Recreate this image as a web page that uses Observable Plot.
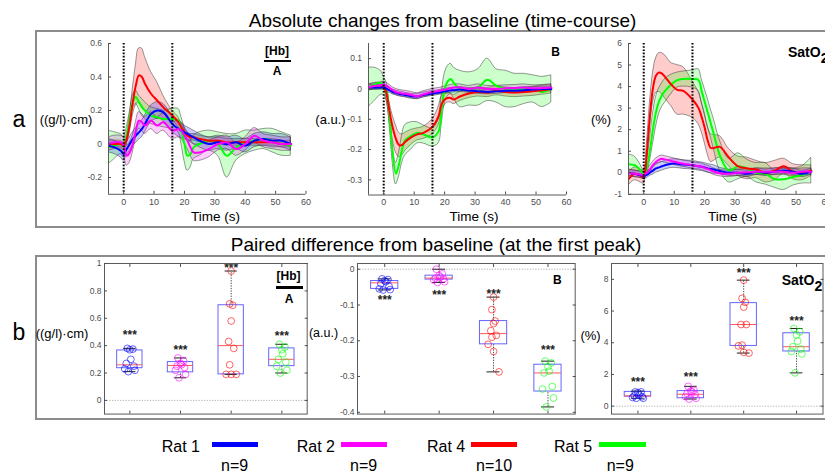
<!DOCTYPE html>
<html><head><meta charset="utf-8">
<script src="https://cdn.jsdelivr.net/npm/d3@7"></script>
<script src="https://cdn.jsdelivr.net/npm/@observablehq/plot@0.6"></script>
<style>
body{margin:0;background:#fff;font-family:"Liberation Sans",Arial,sans-serif;}
#root{position:relative;width:825px;height:475px;overflow:hidden;background:#fff;}
.t{position:absolute;white-space:nowrap;color:#000;line-height:1;}
.panel{position:absolute;border:2px solid #8c8c8c;box-sizing:border-box;}
.plot{position:absolute;}
.bar{position:absolute;}
</style></head><body><div id="root"></div>
<script>
// ---------------- DATA ----------------
const ratNames = ["Rat 1","Rat 2","Rat 4","Rat 5"];
const ratCounts = ["n=9","n=9","n=10","n=9"];
const ratColors = ["#0000ff","#ff00ff","#ff0000","#00ff00"];
const time = [-5,-3,-1,0,1,2,3,4,5,6,7,9,11,13,16,18,19,20,21,22,23,25,28,31,34,37,40,43,46,49,52,55];
const stimulusLines = [0, 16];
const timeTicks = [0,10,20,30,40,50,60];

// a) [Hb] time course: mean and half-width of the shaded band
const hbMeanRat1 = [-0.01,-0.02,-0.04,-0.06,-0.03,0.0,0.03,0.05,0.07,0.09,0.12,0.18,0.2,0.19,0.12,0.09,0.08,0.07,0.06,0.05,0.04,0.02,0.0,0.01,0.0,0.01,-0.01,0.02,0.03,0.02,0.02,0.0];
const hbErrRat1  = [0.04,0.04,0.04,0.04,0.04,0.04,0.04,0.045,0.045,0.05,0.05,0.05,0.05,0.05,0.05,0.045,0.045,0.04,0.04,0.04,0.04,0.04,0.04,0.04,0.04,0.04,0.04,0.04,0.04,0.04,0.04,0.04];
const hbMeanRat2 = [0.0,0.01,0.01,-0.01,-0.07,-0.05,0.0,0.08,0.14,0.13,0.11,0.14,0.11,0.13,0.08,0.09,0.08,0.05,0.02,-0.02,-0.05,-0.05,-0.03,0.0,0.01,-0.03,0.0,0.05,0.02,0.01,0.0,0.0];
const hbErrRat2  = [0.04,0.04,0.04,0.05,0.06,0.06,0.05,0.05,0.05,0.05,0.05,0.05,0.05,0.05,0.05,0.05,0.05,0.05,0.05,0.05,0.05,0.05,0.05,0.04,0.04,0.04,0.04,0.045,0.04,0.04,0.04,0.04];
const hbMeanRat4 = [0.0,0.0,0.0,-0.01,0.03,0.12,0.25,0.35,0.41,0.4,0.36,0.3,0.26,0.22,0.17,0.13,0.1,0.07,0.05,0.04,0.04,0.03,0.02,0.02,0.01,0.01,0.01,0.01,0.01,0.01,0.0,0.0];
const hbErrRat4  = [0.02,0.02,0.02,0.02,0.03,0.05,0.08,0.12,0.16,0.17,0.16,0.13,0.11,0.07,0.03,0.03,0.02,0.02,0.02,0.02,0.02,0.02,0.02,0.02,0.02,0.02,0.02,0.02,0.02,0.02,0.02,0.02];
const hbMeanRat5 = [-0.02,-0.01,0.0,-0.02,0.05,0.15,0.25,0.28,0.25,0.22,0.2,0.17,0.16,0.15,0.15,0.14,0.08,0.0,-0.07,-0.06,-0.02,0.0,0.02,0.0,-0.07,-0.02,0.01,0.02,0.03,0.02,0.0,-0.01];
const hbErrRat5  = [0.1,0.08,0.06,0.06,0.05,0.04,0.04,0.04,0.04,0.05,0.05,0.05,0.05,0.05,0.06,0.07,0.08,0.1,0.09,0.08,0.07,0.07,0.06,0.07,0.13,0.08,0.07,0.06,0.06,0.07,0.07,0.06];

// a) B time course
const bMeanRat1 = [0.005,0.005,0.005,0.005,0.0,-0.005,-0.01,-0.013,-0.016,-0.018,-0.02,-0.024,-0.025,-0.02,-0.015,-0.012,-0.01,-0.008,-0.006,-0.005,-0.004,-0.002,-0.005,-0.008,-0.01,-0.008,-0.006,-0.006,-0.004,-0.002,0.0,0.0];
const bErrRat1  = [0.008,0.008,0.008,0.008,0.008,0.008,0.008,0.008,0.008,0.008,0.008,0.008,0.008,0.008,0.008,0.008,0.008,0.008,0.008,0.008,0.008,0.008,0.008,0.008,0.008,0.008,0.008,0.008,0.008,0.008,0.008,0.008];
const bMeanRat2 = [0.005,0.01,0.012,0.015,0.01,0.003,-0.005,-0.01,-0.013,-0.015,-0.016,-0.02,-0.024,-0.018,-0.01,-0.007,-0.005,-0.002,0.0,0.003,0.005,0.005,0.0,0.005,0.0,0.0,0.002,0.003,0.005,0.002,0.003,0.005];
const bErrRat2  = [0.01,0.01,0.01,0.01,0.01,0.01,0.01,0.01,0.01,0.01,0.01,0.01,0.01,0.01,0.01,0.01,0.01,0.01,0.01,0.01,0.01,0.01,0.01,0.01,0.01,0.01,0.01,0.01,0.01,0.01,0.01,0.01];
const bMeanRat4 = [0.005,0.008,0.01,0.01,-0.02,-0.08,-0.13,-0.165,-0.185,-0.185,-0.175,-0.16,-0.15,-0.145,-0.125,-0.09,-0.05,-0.035,-0.03,-0.03,-0.035,-0.025,-0.015,-0.01,-0.012,-0.006,-0.01,-0.012,-0.01,-0.008,-0.004,0.0];
const bErrRat4  = [0.01,0.01,0.01,0.01,0.02,0.03,0.04,0.045,0.04,0.035,0.03,0.025,0.02,0.02,0.025,0.03,0.025,0.02,0.015,0.015,0.015,0.015,0.015,0.015,0.015,0.015,0.015,0.015,0.015,0.015,0.015,0.015];
const bMeanRat5 = [0.005,0.015,0.02,0.01,-0.01,-0.1,-0.22,-0.28,-0.25,-0.2,-0.17,-0.155,-0.145,-0.15,-0.16,-0.14,-0.07,0.0,0.025,0.033,0.02,0.0,0.0,0.005,0.03,0.01,0.0,-0.005,0.0,0.0,-0.01,0.0];
const bErrRat5  = [0.065,0.055,0.04,0.03,0.03,0.03,0.03,0.035,0.04,0.045,0.05,0.045,0.035,0.03,0.03,0.04,0.05,0.05,0.05,0.05,0.05,0.06,0.055,0.06,0.07,0.055,0.06,0.055,0.05,0.045,0.05,0.045];

// a) SatO2 time course
const satMeanRat1 = [0.0,-0.05,-0.1,-0.15,-0.1,0.0,0.1,0.2,0.25,0.3,0.35,0.42,0.42,0.38,0.35,0.3,0.28,0.25,0.2,0.18,0.15,0.08,0.0,0.0,-0.05,0.05,0.0,0.05,0.1,0.05,-0.05,0.05];
const satErrRat1  = [0.15,0.15,0.15,0.15,0.15,0.15,0.18,0.2,0.2,0.2,0.2,0.2,0.2,0.2,0.2,0.2,0.2,0.2,0.2,0.2,0.2,0.15,0.15,0.15,0.15,0.15,0.15,0.15,0.15,0.15,0.15,0.15];
const satMeanRat2 = [0.0,-0.05,-0.08,-0.1,0.0,0.15,0.35,0.5,0.6,0.65,0.62,0.55,0.48,0.42,0.35,0.3,0.28,0.22,0.18,0.12,0.05,-0.02,-0.05,0.0,0.02,0.05,0.05,0.05,0.05,0.0,0.05,0.05];
const satErrRat2  = [0.15,0.15,0.15,0.15,0.15,0.15,0.15,0.15,0.15,0.15,0.15,0.15,0.15,0.15,0.15,0.15,0.15,0.15,0.15,0.15,0.15,0.15,0.15,0.15,0.15,0.15,0.15,0.15,0.15,0.15,0.15,0.15];
const satMeanRat4 = [-0.3,-0.05,-0.15,-0.2,0.9,2.6,3.9,4.5,4.65,4.6,4.45,4.1,3.85,3.8,3.4,3.0,2.6,2.1,1.5,1.15,1.15,1.2,0.7,0.3,0.2,0.15,0.0,0.1,0.3,0.05,0.0,0.1];
const satErrRat4  = [0.3,0.3,0.3,0.3,0.4,0.6,0.7,0.8,0.9,0.95,1.0,1.0,1.15,1.1,0.85,0.75,0.7,0.7,0.65,0.65,0.6,0.5,0.4,0.45,0.5,0.4,0.45,0.45,0.35,0.35,0.35,0.25];
const satMeanRat5 = [0.4,0.35,0.1,-0.1,0.2,1.0,2.0,2.8,3.3,3.6,3.8,4.1,4.3,4.35,4.35,4.3,3.8,3.3,2.8,2.3,1.8,0.8,0.1,0.3,0.2,0.0,-0.05,-0.3,-0.3,-0.2,-0.1,0.1];
const satErrRat5  = [0.45,0.4,0.25,0.2,0.3,0.5,0.7,0.7,0.6,0.55,0.55,0.45,0.35,0.35,0.4,0.5,0.55,0.6,0.65,0.65,0.7,0.7,0.55,0.6,0.4,0.45,0.5,0.4,0.5,0.4,0.4,0.6];

const hbTicks = [-0.2,0,0.2,0.4,0.6];
const bTicks = [-0.3,-0.2,-0.1,0,0.1];
const satTicks = [-1,0,1,2,3,4,5,6];

// b) paired differences at first peak (box statistics per rat, then individual values)
const hbBoxQ1 = [0.235,0.205,0.19,0.25];
const hbBoxMed = [0.26,0.255,0.40,0.30];
const hbBoxQ3 = [0.365,0.28,0.695,0.38];
const hbWhiskLo = [0.21,0.165,0.19,0.20];
const hbWhiskHi = [0.38,0.31,0.945,0.41];
const hbStarY = [0.495,0.39,0.99,0.49];
const hbPtsRat1 = [0.38,0.375,0.37,0.30,0.27,0.25,0.23,0.22,0.21];
const hbPtsRat2 = [0.31,0.29,0.27,0.26,0.25,0.24,0.22,0.19,0.165];
const hbPtsRat4 = [0.945,0.705,0.695,0.58,0.43,0.38,0.26,0.19,0.19,0.19];
const hbPtsRat5 = [0.41,0.39,0.37,0.34,0.30,0.28,0.25,0.22,0.20];

const bBoxQ1 = [-0.055,-0.029,-0.21,-0.342];
const bBoxMed = [-0.038,-0.025,-0.18,-0.29];
const bBoxQ3 = [-0.033,-0.018,-0.145,-0.267];
const bWhiskLo = [-0.058,-0.037,-0.287,-0.385];
const bWhiskHi = [-0.027,0.0,-0.078,-0.257];
const bStarY = [-0.079,-0.065,-0.061,-0.219];
const bPtsRat1 = [-0.027,-0.029,-0.032,-0.035,-0.04,-0.048,-0.055,-0.057,-0.058];
const bPtsRat2 = [0.0,-0.013,-0.018,-0.022,-0.025,-0.027,-0.03,-0.035,-0.037];
const bPtsRat4 = [-0.078,-0.113,-0.145,-0.152,-0.172,-0.185,-0.19,-0.21,-0.23,-0.287];
const bPtsRat5 = [-0.257,-0.262,-0.272,-0.285,-0.29,-0.328,-0.335,-0.36,-0.385];

const satBoxQ1 = [0.6,0.5,3.8,3.45];
const satBoxMed = [0.65,0.75,5.15,3.75];
const satBoxQ3 = [0.9,0.95,6.5,4.6];
const satWhiskLo = [0.5,0.45,3.35,2.1];
const satWhiskHi = [0.95,1.25,7.95,4.9];
const satStarY = [1.71,2.02,8.59,5.56];
const satPtsRat1 = [0.9,0.9,0.85,0.7,0.65,0.6,0.55,0.5,0.5];
const satPtsRat2 = [1.25,1.0,0.95,0.9,0.8,0.75,0.6,0.5,0.45];
const satPtsRat4 = [7.95,6.8,6.55,6.25,5.15,5.15,3.85,3.8,3.4,3.35];
const satPtsRat5 = [4.9,4.7,4.5,4.1,3.75,3.6,3.45,3.3,2.1];

// horizontal spread of the individual circles (category units)
const jitter9 = [-0.05,0.06,0.0,0.02,-0.07,0.08,-0.1,0.1,-0.03];
const jitter10 = [0.0,-0.03,0.03,0.0,-0.05,0.05,-0.03,-0.1,0.0,0.1];

const hbBoxTicks = [0,0.2,0.4,0.6,0.8,1];
const bBoxTicks = [-0.4,-0.3,-0.2,-0.1,0];
const satBoxTicks = [0,2,4,6,8];

// ---------------- DRAWING ----------------
const root = document.getElementById("root");
const FONT = "Liberation Sans, Arial, Helvetica, sans-serif";
const axisColor = "#5a5a5a";
const tickColor = "#4d4d4d";
const fmt = d => String(d);

function label(text, x, y, {size = 13, weight = "normal", anchor = "middle", html = false} = {}) {
  const d = document.createElement("div");
  d.className = "t";
  if (html) d.innerHTML = text; else d.textContent = text;
  d.style.left = x + "px"; d.style.top = y + "px";
  d.style.fontSize = size + "px"; d.style.fontWeight = weight;
  d.style.fontFamily = FONT;
  d.style.transform = anchor === "middle" ? "translate(-50%,-50%)" : "translate(0,-50%)";
  root.appendChild(d);
  return d;
}
function bar(x1, x2, y, h, color) {
  const d = document.createElement("div");
  d.className = "bar";
  d.style.left = x1 + "px"; d.style.width = (x2 - x1) + "px";
  d.style.top = (y - h / 2) + "px"; d.style.height = h + "px";
  d.style.background = color;
  root.appendChild(d);
}
function panel(x, y, w, h) {
  const d = document.createElement("div");
  d.className = "panel";
  Object.assign(d.style, {left: x + "px", top: y + "px", width: w + "px", height: h + "px"});
  root.appendChild(d);
}
function place(svg, x0, y0, ml, mt) {
  const wrap = document.createElement("div");
  wrap.className = "plot";
  wrap.style.left = (x0 - ml) + "px"; wrap.style.top = (y0 - mt) + "px";
  wrap.appendChild(svg);
  root.appendChild(wrap);
}

const ml = 40, mr = 14, mt = 8, mb = 24;
const svgStyle = {background: "transparent", overflow: "visible", fontFamily: FONT, maxWidth: "none"};

function timePlot(series, yDomain, yTicks, frame) {
  const [x0, x1, y0, y1] = frame;
  const rows = [];
  series.forEach(([m, e], k) => time.forEach((t, i) => rows.push({t, m: m[i], lo: m[i] - e[i], hi: m[i] + e[i], k})));
  const marks = [];
  for (const k of [2, 3, 0, 1]) marks.push(Plot.areaY(rows.filter(d => d.k === k), {x: "t", y1: "lo", y2: "hi", fill: ratColors[k], fillOpacity: 0.2, stroke: "#333", strokeWidth: 0.5, curve: "catmull-rom", clip: true}));
  for (const k of [3, 2, 0, 1]) marks.push(Plot.line(rows.filter(d => d.k === k), {x: "t", y: "m", stroke: ratColors[k], strokeWidth: 2, curve: "catmull-rom", clip: true}));
  marks.push(Plot.ruleX(stimulusLines, {stroke: "#000", strokeWidth: 2, strokeDasharray: "1.6,1.6"}));
  marks.push(Plot.ruleX([-5], {stroke: axisColor}));
  marks.push(Plot.ruleY([yDomain[0]], {stroke: axisColor}));
  marks.push(Plot.axisX({ticks: timeTicks, tickFormat: fmt, tickSize: -3, tickPadding: 7, fontSize: 9, color: tickColor, label: null}));
  marks.push(Plot.axisY({ticks: yTicks, tickFormat: fmt, tickSize: -3, tickPadding: 9.5, fontSize: 8.5, color: tickColor, label: null}));
  const svg = Plot.plot({
    width: x1 - x0 + ml + mr, height: y1 - y0 + mt + mb,
    marginLeft: ml, marginRight: mr, marginTop: mt, marginBottom: mb,
    x: {domain: [-5, 60]}, y: {domain: yDomain},
    style: svgStyle, marks
  });
  place(svg, x0, y0, ml, mt);
}

function boxPlot(q1, med, q3, wlo, whi, stars, ptsList, yDomain, yTicks, frame) {
  const [x0, x1, y0, y1] = frame;
  const boxes = ratNames.map((name, i) => ({pos: i + 1, q1: q1[i], med: med[i], q3: q3[i], lo: wlo[i], hi: whi[i], star: stars[i], k: i}));
  const pts = [];
  ptsList.forEach((arr, i) => {
    const jit = arr.length === 10 ? jitter10 : jitter9;
    arr.forEach((v, j) => pts.push({pos: i + 1, jit: jit[j], v, k: i}));
  });
  const marks = [
    Plot.ruleY([0], {stroke: "#9a9a9a", strokeWidth: 0.8, strokeDasharray: "1.2,1.5"}),
    Plot.ruleX(boxes, {x: "pos", y1: "lo", y2: "q1", stroke: "#333", strokeWidth: 0.9, strokeDasharray: "1.3,1.3"}),
    Plot.ruleX(boxes, {x: "pos", y1: "q3", y2: "hi", stroke: "#333", strokeWidth: 0.9, strokeDasharray: "1.3,1.3"}),
    Plot.rect(boxes, {x1: d => d.pos - 0.25, x2: d => d.pos + 0.25, y1: "q1", y2: "q3", fill: "none", stroke: "#6464ff", strokeWidth: 1}),
    Plot.ruleY(boxes, {y: "med", x1: d => d.pos - 0.25, x2: d => d.pos + 0.25, stroke: "#ff5a5a", strokeWidth: 1}),
    Plot.ruleY(boxes, {y: "hi", x1: d => d.pos - 0.12, x2: d => d.pos + 0.12, stroke: "#222", strokeWidth: 1}),
    Plot.ruleY(boxes, {y: "lo", x1: d => d.pos - 0.12, x2: d => d.pos + 0.12, stroke: "#222", strokeWidth: 1}),
    Plot.dot(pts, {x: d => d.pos + d.jit, y: "v", r: 3.4, stroke: d => ratColors[d.k], strokeOpacity: 0.6, strokeWidth: 1, fill: "none"}),
    Plot.text(boxes, {x: "pos", y: "star", text: () => "***", fontSize: 12, fontWeight: "bold", fill: "#222", dy: 3}),
    Plot.frame({stroke: axisColor}),
    Plot.axisX({ticks: [1, 2, 3, 4], tickFormat: () => "", tickSize: -3, color: tickColor, label: null}),
    Plot.axisX({anchor: "top", ticks: [1, 2, 3, 4], tickFormat: () => "", tickSize: -3, color: tickColor, label: null}),
    Plot.axisY({ticks: yTicks, tickFormat: fmt, tickSize: -3, tickPadding: 6, fontSize: 8.5, color: tickColor, label: null}),
    Plot.axisY({anchor: "right", ticks: yTicks, tickFormat: () => "", tickSize: -3, color: tickColor, label: null})
  ];
  const svg = Plot.plot({
    width: x1 - x0 + ml + mr, height: y1 - y0 + mt + mb,
    marginLeft: ml, marginRight: mr, marginTop: mt, marginBottom: mb,
    x: {domain: [0.5, 4.5]}, y: {domain: yDomain},
    style: svgStyle, marks
  });
  place(svg, x0, y0, ml, mt);
}

// panels and titles
panel(34.5, 29.5, 800, 198);
panel(34.5, 254.5, 800, 165.5);
label("Absolute changes from baseline (time-course)", 442.5, 19.5, {size: 19});
label("Paired difference from baseline (at the first peak)", 436, 243.5, {size: 19});
label("a", 19, 119, {size: 23});
label("b", 19, 332, {size: 23});

// time-course plots
timePlot([[hbMeanRat1, hbErrRat1], [hbMeanRat2, hbErrRat2], [hbMeanRat4, hbErrRat4], [hbMeanRat5, hbErrRat5]], [-0.3, 0.6], hbTicks, [107.5, 305, 42.7, 193.5]);
timePlot([[bMeanRat1, bErrRat1], [bMeanRat2, bErrRat2], [bMeanRat4, bErrRat4], [bMeanRat5, bErrRat5]], [-0.35, 0.15], bTicks, [367.5, 565.5, 42.5, 194]);
timePlot([[satMeanRat1, satErrRat1], [satMeanRat2, satErrRat2], [satMeanRat4, satErrRat4], [satMeanRat5, satErrRat5]], [-1, 6], satTicks, [628, 826, 42.7, 193.5]);

// box plots
boxPlot(hbBoxQ1, hbBoxMed, hbBoxQ3, hbWhiskLo, hbWhiskHi, hbStarY, [hbPtsRat1, hbPtsRat2, hbPtsRat4, hbPtsRat5], [-0.1, 1], hbBoxTicks, [104.3, 307, 262.7, 413.3]);
boxPlot(bBoxQ1, bBoxMed, bBoxQ3, bWhiskLo, bWhiskHi, bStarY, [bPtsRat1, bPtsRat2, bPtsRat4, bPtsRat5], [-0.405, 0.016], bBoxTicks, [357.3, 575, 262.7, 413.3]);
boxPlot(satBoxQ1, satBoxMed, satBoxQ3, satWhiskLo, satWhiskHi, satStarY, [satPtsRat1, satPtsRat2, satPtsRat4, satPtsRat5], [-0.5, 9], satBoxTicks, [611, 822.5, 262.7, 413.3]);

// axis labels
label("((g/l)·cm)", 66, 119, {size: 13});
label("(a.u.)", 330.5, 119, {size: 13});
label("(%)", 601, 119, {size: 13});
label("Time (s)", 215.5, 216.5, {size: 13.5});
label("Time (s)", 474, 216.5, {size: 13.5});
label("Time (s)", 732.5, 216.5, {size: 13.5});
label("((g/l)·cm)", 62, 333, {size: 13});
label("(a.u.)", 323.5, 333, {size: 12.5});
label("(%)", 590.5, 335, {size: 13});

// in-plot annotations
label("[Hb]", 277, 50.5, {size: 12, weight: "bold"});
bar(263.5, 290.5, 61, 2.6, "#000");
label("A", 277, 71, {size: 12, weight: "bold"});
label("B", 555.5, 51.5, {size: 12, weight: "bold"});
label("SatO<span style=\"position:relative;top:6px\">2</span>", 788, 51.8, {size: 14, weight: "bold", anchor: "start", html: true});

label("[Hb]", 288.5, 276, {size: 12, weight: "bold"});
bar(276, 302.5, 287.7, 2.6, "#000");
label("A", 289, 299, {size: 12, weight: "bold"});
label("B", 557.3, 280, {size: 12, weight: "bold"});
label("SatO<span style=\"position:relative;top:6px\">2</span>", 781.7, 280, {size: 14, weight: "bold", anchor: "start", html: true});

// legend
const legendTextX = [161.7, 296.7, 427, 554];
const legendBar = [[212, 258.3], [340.7, 387], [470.7, 517], [599, 645.7]];
const legendCountX = [221, 350, 476, 606.7];
ratNames.forEach((name, i) => {
  label(name, legendTextX[i], 446.5, {size: 16, anchor: "start"});
  bar(legendBar[i][0], legendBar[i][1], 444.5, 4.6, ratColors[i]);
  label(ratCounts[i], legendCountX[i], 466, {size: 16, anchor: "start"});
});
</script></body></html>
